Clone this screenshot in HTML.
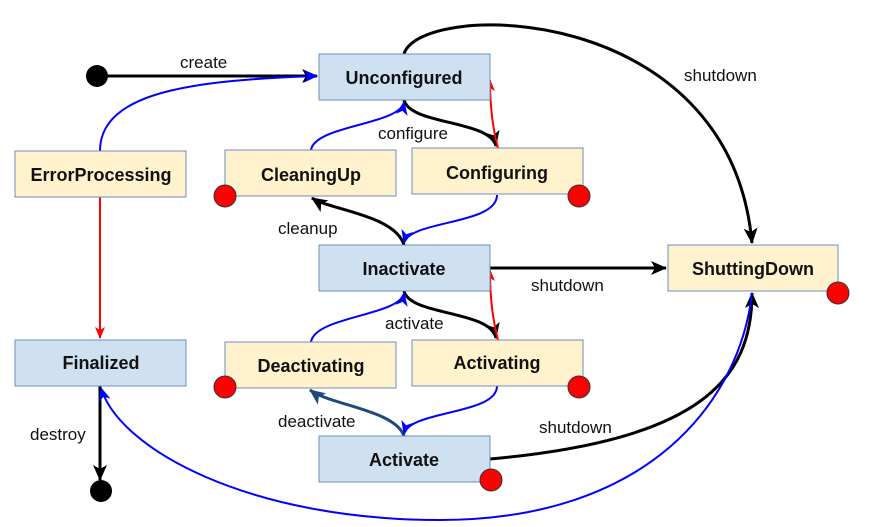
<!DOCTYPE html>
<html><head><style>body{margin:0;background:#fff}svg{display:block}text{font-family:"Liberation Sans",sans-serif;font-size:17px;fill:#111}.b{font-weight:bold;font-size:18px;text-anchor:middle}</style></head><body>
<svg width="874" height="527" viewBox="0 0 874 527">
<defs>
<marker id="ak" markerWidth="16" markerHeight="14" refX="15" refY="7" orient="auto" markerUnits="userSpaceOnUse" viewBox="0 0 16 14"><path d="M0,0 L16,7 L0,14 L4,7z" fill="#000"/></marker>
<marker id="ab" markerWidth="14" markerHeight="12" refX="13" refY="6" orient="auto" markerUnits="userSpaceOnUse" viewBox="0 0 14 12"><path d="M0,0 L14,6 L0,12 L4,6z" fill="#00f"/></marker>
<marker id="ar" markerWidth="12" markerHeight="10" refX="11" refY="5" orient="auto" markerUnits="userSpaceOnUse" viewBox="0 0 12 10"><path d="M0,0 L12,5 L0,10 L3,5z" fill="#f00"/></marker>
<marker id="an" markerWidth="16" markerHeight="14" refX="15" refY="7" orient="auto" markerUnits="userSpaceOnUse" viewBox="0 0 16 14"><path d="M0,0 L16,7 L0,14 L4,7z" fill="#1f497d"/></marker>
</defs>
<g fill="none" stroke-width="3" stroke="#000">
<path d="M108,76 L317,76" marker-end="url(#ak)"/>
<path d="M404,54 C420,0 730,0 752,243" marker-end="url(#ak)"/>
<path d="M404,100 C410,125 490,120 496,146" marker-end="url(#ak)"/>
<path d="M404,245 C395,215 330,210 312,198" marker-end="url(#ak)"/>
<path d="M490,268 L666,268" marker-end="url(#ak)"/>
<path d="M404,291 C410,316 490,310 496,338" marker-end="url(#ak)"/>
<path d="M490,459 C700,440 752,380 752,293" marker-end="url(#ak)"/>
<path d="M100,386 L100,480" marker-end="url(#ak)"/>
<path d="M404,436 C395,410 330,405 310,390" stroke="#1f497d" marker-end="url(#an)"/>
</g>
<g fill="none" stroke-width="2" stroke="#00f">
<path d="M100,151 C100,90 200,80 317,76" marker-end="url(#ab)"/>
<path d="M311,150 C315,125 400,125 404,102" marker-end="url(#ab)"/>
<path d="M497,195 C497,225 410,220 404,243" marker-end="url(#ab)"/>
<path d="M311,342 C315,316 400,316 404,293" marker-end="url(#ab)"/>
<path d="M497,386 C497,415 410,410 404,434" marker-end="url(#ab)"/>
<path d="M752,293 C740,400 650,520 440,520 C250,520 120,450 101,388" marker-end="url(#ab)"/>
</g>
<g fill="none" stroke-width="2" stroke="#f00">
<path d="M498,148 C493,130 490,110 490,80" marker-end="url(#ar)"/>
<path d="M498,340 C493,320 490,300 490,270" marker-end="url(#ar)"/>
<path d="M100,197 L100,338" marker-end="url(#ar)"/>
</g>
<circle cx="97" cy="76" r="11" fill="#000"/>
<circle cx="101" cy="491" r="11" fill="#000"/>
<g stroke="#6c8ebf" stroke-width="1">
<rect x="319" y="54" width="171" height="46" fill="#cfe0f1"/>
<rect x="319" y="245" width="171" height="46" fill="#cfe0f1"/>
<rect x="319" y="436" width="171" height="46" fill="#cfe0f1"/>
<rect x="15" y="340" width="171" height="46" fill="#cfe0f1"/>
<rect x="15" y="151" width="171" height="46" fill="#fff2cc"/>
<rect x="225" y="150" width="171" height="46" fill="#fff2cc"/>
<rect x="412" y="148" width="171" height="46" fill="#fff2cc"/>
<rect x="225" y="342" width="171" height="46" fill="#fff2cc"/>
<rect x="412" y="340" width="171" height="46" fill="#fff2cc"/>
<rect x="668" y="245" width="170" height="46" fill="#fff2cc"/>
</g>
<g fill="#f00" stroke="#333" stroke-width="1">
<circle cx="225" cy="196" r="11"/><circle cx="579" cy="196" r="11"/>
<circle cx="225" cy="387" r="11"/><circle cx="579" cy="387" r="11"/>
<circle cx="838" cy="293" r="11"/><circle cx="491" cy="480" r="11"/>
</g>
<text class="b" x="404" y="84">Unconfigured</text>
<text class="b" x="311" y="181">CleaningUp</text>
<text class="b" x="497" y="179">Configuring</text>
<text class="b" x="404" y="275">Inactivate</text>
<text class="b" x="753" y="275">ShuttingDown</text>
<text class="b" x="101" y="181">ErrorProcessing</text>
<text class="b" x="101" y="369">Finalized</text>
<text class="b" x="311" y="372">Deactivating</text>
<text class="b" x="497" y="369">Activating</text>
<text class="b" x="404" y="466">Activate</text>
<text x="180" y="68">create</text>
<text x="684" y="81">shutdown</text>
<text x="378" y="139">configure</text>
<text x="278" y="234">cleanup</text>
<text x="531" y="291">shutdown</text>
<text x="385" y="329">activate</text>
<text x="278" y="427">deactivate</text>
<text x="539" y="433">shutdown</text>
<text x="30" y="440">destroy</text>
</svg>
</body></html>
